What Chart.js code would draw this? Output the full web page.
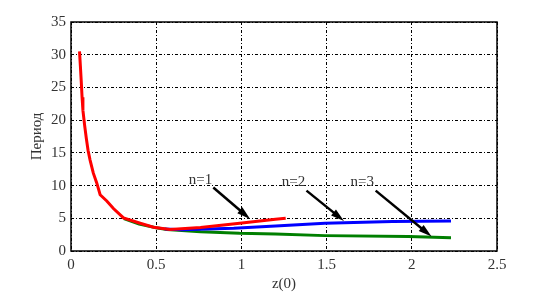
<!DOCTYPE html>
<html>
<head>
<meta charset="utf-8">
<script src="https://cdn.jsdelivr.net/npm/chart.js@4/dist/chart.umd.min.js"></script>
<style>
  body { margin: 0; background: #fff; }
  #wrap { width: 549px; height: 293px; }
</style>
</head>
<body>
<div id="wrap"><canvas id="ctx" width="549" height="293"></canvas></div>
<script>
// period vs z(0)
const redZ = [0.05, 0.055, 0.06, 0.065, 0.07, 0.08, 0.09, 0.1, 0.112, 0.131, 0.151, 0.171, 0.21, 0.249, 0.308, 0.406, 0.484, 0.58, 0.76, 0.99, 1.2, 1.26];
const redP = [30.5, 28.3, 26.0, 23.5, 21.5, 19.2, 17.2, 15.4, 13.9, 11.9, 10.4, 8.6, 7.65, 6.5, 5.05, 4.24, 3.63, 3.3, 3.6, 4.24, 4.85, 5.0];

const blueZ = [0.55, 0.65, 0.8, 0.955, 1.2, 1.49, 1.886, 2.23];
const blueP = [3.35, 3.25, 3.35, 3.47, 3.83, 4.24, 4.5, 4.6];

const greenZ = [0.31, 0.4, 0.5, 0.563, 0.76, 0.99, 1.2, 1.49, 1.98, 2.23];
const greenP = [4.95, 4.1, 3.55, 3.3, 2.96, 2.7, 2.6, 2.35, 2.2, 2.04];

// annotation labels and arrows (from -> to, in data units)
const labels = ["n=1", "n=2", "n=3"];
const labelZ = [0.76, 1.306, 1.709];
const labelP = [10.9, 10.46, 10.46];
const arrowFromZ = [0.835, 1.382, 1.788];
const arrowFromP = [9.7, 9.23, 9.23];
const arrowToZ = [1.051, 1.602, 2.116];
const arrowToP = [4.9, 4.6, 2.2];

const xTicks = [0, 0.5, 1, 1.5, 2, 2.5];
const yTicks = [0, 5, 10, 15, 20, 25, 30, 35];

function toXY(zs, ps) {
  return zs.map((z, i) => ({ x: z, y: ps[i] }));
}

const serif = "'Liberation Serif', 'Times New Roman', serif";
const textColor = "#333";

// box around the plot + arrows with labels
const extras = {
  id: "extras",
  afterDatasetsDraw(chart) {
    const c = chart.ctx;
    const xs = chart.scales.x;
    const ys = chart.scales.y;
    const a = chart.chartArea;
    c.save();
    c.strokeStyle = "#000";
    c.lineWidth = 1.5;
    c.strokeRect(a.left, a.top, a.right - a.left, a.bottom - a.top);

    for (let i = 0; i < labels.length; i++) {
      const x1 = xs.getPixelForValue(arrowFromZ[i]);
      const y1 = ys.getPixelForValue(arrowFromP[i]);
      const x2 = xs.getPixelForValue(arrowToZ[i]);
      const y2 = ys.getPixelForValue(arrowToP[i]);
      const ang = Math.atan2(y2 - y1, x2 - x1);
      const head = 14;
      c.strokeStyle = "#000";
      c.fillStyle = "#000";
      c.lineWidth = 2.5;
      c.beginPath();
      c.moveTo(x1, y1);
      c.lineTo(x2 - Math.cos(ang) * head * 0.6, y2 - Math.sin(ang) * head * 0.6);
      c.stroke();
      c.beginPath();
      c.moveTo(x2, y2);
      c.lineTo(x2 - head * Math.cos(ang - 0.28), y2 - head * Math.sin(ang - 0.28));
      c.lineTo(x2 - head * Math.cos(ang + 0.28), y2 - head * Math.sin(ang + 0.28));
      c.closePath();
      c.fill();

      c.font = "15px " + serif;
      c.fillStyle = textColor;
      c.textAlign = "center";
      c.textBaseline = "middle";
      c.fillText(labels[i], xs.getPixelForValue(labelZ[i]), ys.getPixelForValue(labelP[i]));
    }
    c.restore();
  },
};

const tickFont = { family: serif, size: 15 };

const chartConfig = {
  type: "line",
  data: {
    datasets: [
      {
        data: toXY(redZ, redP),
        borderColor: "#ff0000",
        borderWidth: 3,
        pointRadius: 0,
        tension: 0,
      },
      {
        data: toXY(blueZ, blueP),
        borderColor: "#0000ff",
        borderWidth: 3,
        pointRadius: 0,
        tension: 0,
      },
      {
        data: toXY(greenZ, greenP),
        borderColor: "#007f00",
        borderWidth: 3,
        pointRadius: 0,
        tension: 0,
      },
    ],
  },
  options: {
    responsive: false,
    animation: false,
    layout: {
      padding: { left: 0, right: 52, top: 22, bottom: 0 },
    },
    scales: {
      x: {
        type: "linear",
        min: 0,
        max: 2.5,
        afterBuildTicks: (scale) => {
          scale.ticks = xTicks.map((v) => ({ value: v }));
        },
        afterFit: (scale) => {
          scale.height = 42;
        },
        grid: {
          color: "#000",
          lineWidth: 1,
          drawTicks: false,
        },
        border: { display: false, dash: [3, 2, 1, 2] },
        ticks: {
          padding: 5,
          color: textColor,
          font: tickFont,
          callback: (v) => String(v),
        },
        title: {
          display: true,
          text: "z(0)",
          color: textColor,
          padding: { top: 0, bottom: 0 },
          font: tickFont,
        },
      },
      y: {
        type: "linear",
        min: 0,
        max: 35,
        afterBuildTicks: (scale) => {
          scale.ticks = yTicks.map((v) => ({ value: v }));
        },
        afterFit: (scale) => {
          scale.width = 71;
        },
        grid: {
          color: "#000",
          lineWidth: 1,
          drawTicks: false,
        },
        border: { display: false, dash: [3, 2, 1, 2] },
        ticks: {
          padding: 5,
          color: textColor,
          font: tickFont,
          callback: (v) => String(v),
        },
        title: {
          display: true,
          text: "Период",
          color: textColor,
          padding: { top: 28, bottom: 0 },
          font: tickFont,
        },
      },
    },
    plugins: {
      legend: { display: false },
      tooltip: { enabled: false },
    },
  },
  plugins: [extras],
};

window.periodChart = new Chart(document.getElementById("ctx"), chartConfig);
</script>
</body>
</html>
